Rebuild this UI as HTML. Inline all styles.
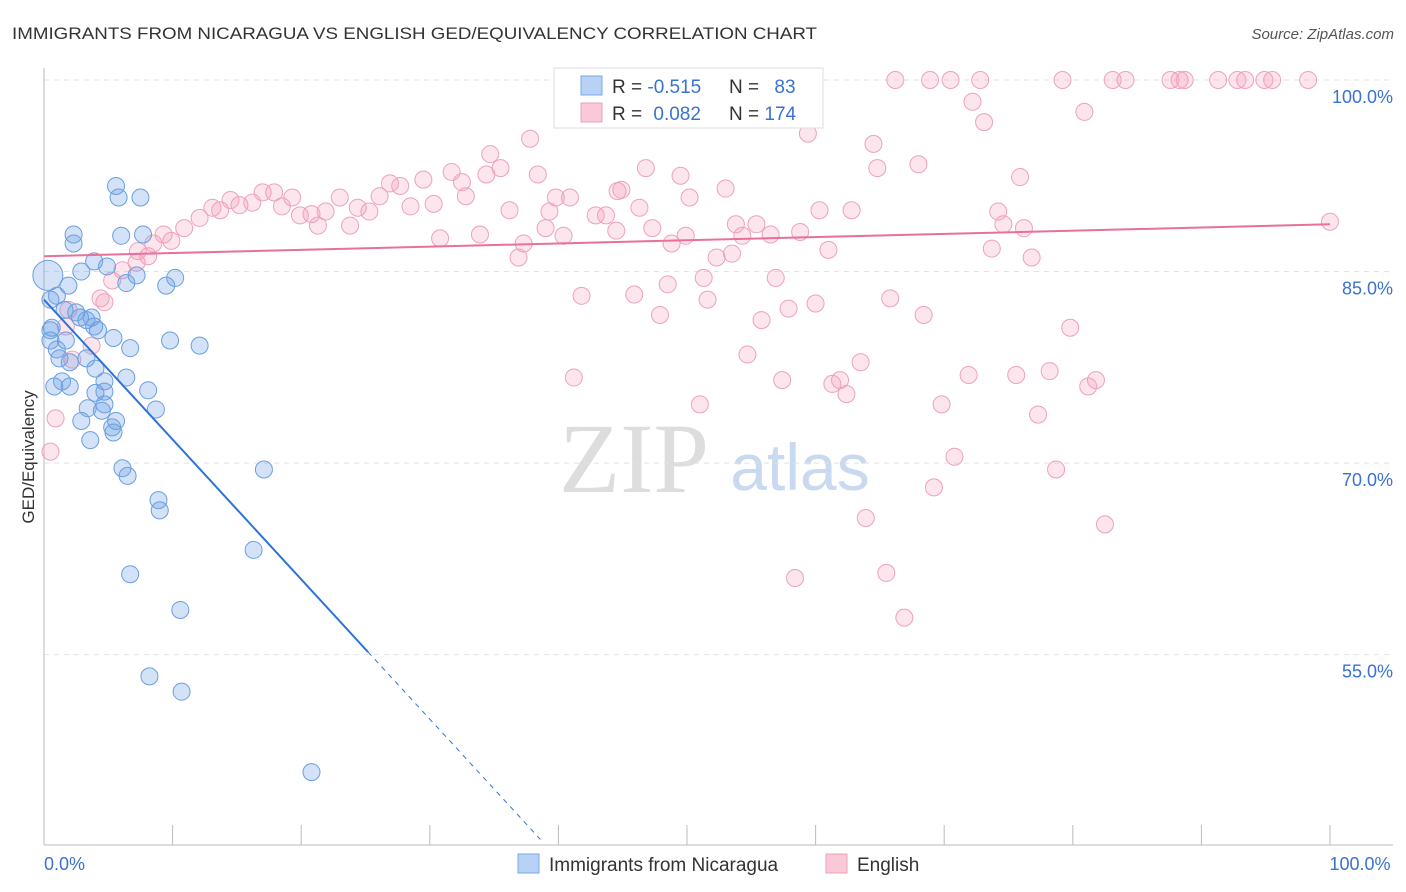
<!DOCTYPE html>
<html><head><meta charset="utf-8"><style>
body{margin:0;background:#fff;font-family:"Liberation Sans",sans-serif;}
#wrap{position:relative;width:1406px;height:892px;overflow:hidden;}
</style></head><body>
<div id="wrap">
<svg id="svg" width="1406" height="892" xmlns="http://www.w3.org/2000/svg">
<text x="12" y="39" font-size="17" fill="#333" textLength="805" lengthAdjust="spacingAndGlyphs">IMMIGRANTS FROM NICARAGUA VS ENGLISH GED/EQUIVALENCY CORRELATION CHART</text>
<text x="1394" y="39" font-size="15" fill="#555" font-style="italic" text-anchor="end">Source: ZipAtlas.com</text>
<text x="634" y="492" font-size="100" fill="#ddd" font-family="Liberation Serif,serif" text-anchor="middle">ZIP</text>
<text x="800" y="490" font-size="66" fill="#c9d9ef" text-anchor="middle">atlas</text>
<text x="34" y="457" font-size="17" fill="#333" text-anchor="middle" transform="rotate(-90 34 457)">GED/Equivalency</text>
<g id="grid"></g><g id="pts"></g><g id="trend"></g>
<g>
<rect x="554" y="68" width="269" height="60" fill="#fff" stroke="#ddd"/>
<rect x="581" y="76" width="21" height="19" fill="#b8d2f5" stroke="#7aa8e8"/>
<rect x="581" y="103" width="21" height="19" fill="#fac8d6" stroke="#eea0b8"/>
<text x="612" y="93" font-size="19" fill="#333">R = <tspan fill="#3a72d0">-0.515</tspan></text>
<text x="729" y="93" font-size="19" fill="#333">N = <tspan fill="#3a72d0" dx="10">83</tspan></text>
<text x="612" y="120" font-size="19" fill="#333">R = <tspan fill="#3a72d0" dx="6">0.082</tspan></text>
<text x="729" y="120" font-size="19" fill="#333">N = <tspan fill="#3a72d0">174</tspan></text>
</g>
<g>
<rect x="518" y="854" width="21" height="19" fill="#b8d2f5" stroke="#7aa8e8"/>
<text x="549" y="871" font-size="19" fill="#333">Immigrants from Nicaragua</text>
<rect x="826" y="854" width="21" height="19" fill="#fac8d6" stroke="#eea0b8"/>
<text x="857" y="871" font-size="19" fill="#333">English</text>
</g>
</svg></div>
<script>
const blueX=[0.3,5.6,5.8,7.5,2.3,2.3,6.0,7.7,4.9,3.9,2.9,7.2,10.2,9.5,6.4,1.9,1.0,0.5,1.6,2.5,3.3,3.9,4.2,0.5,0.5,1.0,1.7,5.4,9.8,12.1,6.7,1.2,3.3,2.0,4.0,6.4,4.7,1.4,2.0,0.8,8.1,4.0,4.7,4.7,3.4,8.7,4.5,2.9,5.6,5.3,5.4,3.6,6.1,6.5,17.1,8.9,9.0,16.3,6.7,10.6,8.2,10.7,20.8,0.6,3.7,2.8];
const blueY=[84.7,91.7,90.8,90.8,87.9,87.2,87.8,87.9,85.4,85.8,85.0,84.7,84.5,83.9,84.1,83.9,83.1,82.8,82.0,81.8,81.2,80.7,80.4,80.4,79.6,78.9,79.6,79.8,79.6,79.2,79.0,78.2,78.2,77.9,77.4,76.7,76.4,76.4,76.0,76.0,75.7,75.5,75.6,74.6,74.3,74.2,74.1,73.3,73.3,72.8,72.4,71.8,69.6,69.0,69.5,67.1,66.3,63.2,61.3,58.5,53.3,52.1,45.8,80.6,81.4,81.4];
const pinkX=[66.2,68.9,70.5,72.8,79.2,83.1,84.1,87.6,88.3,88.7,91.3,92.8,93.4,94.9,95.5,98.3,72.2,80.9,73.1,59.4,37.8,64.5,34.7,68.0,64.8,46.8,35.5,31.7,38.4,49.5,34.4,75.9,29.5,32.5,27.7,44.9,53.0,44.6,17.0,17.9,26.9,32.8,19.3,23.0,40.9,39.8,50.2,26.1,14.5,16.2,15.2,13.7,13.1,12.1,18.5,19.9,20.8,21.9,24.4,25.3,28.5,30.3,36.2,39.3,46.3,60.3,62.8,74.2,42.9,43.7,10.9,23.8,21.3,39.0,47.3,53.8,55.4,58.8,74.6,76.2,44.5,9.3,33.9,30.8,56.5,49.9,54.3,40.4,8.5,9.9,7.3,37.3,48.8,73.7,61.0,8.1,36.9,53.5,52.3,76.8,7.2,6.1,5.3,51.3,56.9,48.5,41.8,45.9,51.6,65.8,60.0,57.9,4.7,4.4,47.9,68.4,55.8,79.8,1.7,54.7,63.5,2.2,41.2,57.4,61.9,61.3,71.9,75.6,78.2,81.8,81.2,62.4,51.0,69.8,77.3,0.9,0.5,70.8,78.7,69.2,63.9,82.5,65.5,58.4,66.9,100,1.9,3.7];
const pinkY=[100,100,100,100,100,100,100,100,100,100,100,100,100,100,100,100,98.3,97.5,96.7,95.8,95.4,95.0,94.2,93.4,93.1,93.1,93.1,92.8,92.6,92.5,92.6,92.4,92.2,92.0,91.7,91.4,91.5,91.3,91.2,91.2,91.9,90.9,90.8,90.8,90.8,90.8,90.8,90.9,90.6,90.4,90.2,89.8,90.0,89.2,90.1,89.4,89.5,89.7,90.0,89.7,90.1,90.3,89.8,89.7,90.0,89.8,89.8,89.7,89.4,89.4,88.4,88.6,88.6,88.4,88.4,88.7,88.7,88.1,88.7,88.4,88.2,87.9,87.9,87.6,87.9,87.8,87.8,87.8,87.2,87.4,86.6,87.2,87.2,86.8,86.7,86.2,86.1,86.4,86.1,86.1,85.7,85.1,84.3,84.5,84.5,84.0,83.1,83.2,82.8,82.9,82.5,82.1,82.6,82.9,81.6,81.6,81.2,80.6,80.7,78.5,77.9,78.1,76.7,76.5,76.5,76.2,76.9,76.9,77.2,76.5,76.0,75.4,74.6,74.6,73.8,73.5,70.9,70.5,69.5,68.1,65.7,65.2,61.4,61.0,57.9,88.9,82.0,79.2];
const yTicks=[100,85,70,55];
const xTickLabels=["0.0%","100.0%"];
const blueTrend=[82.8,-1.095,25.2,38.6]; // intercept, slope, solid end, dashed end
const pinkTrend=[86.2,88.7];
const sx=v=>44+v*12.86, sy=v=>80+(100-v)*12.77;
const NS="http://www.w3.org/2000/svg";
function mk(t,a,p){const e=document.createElementNS(NS,t);for(const k in a)e.setAttribute(k,a[k]);p.appendChild(e);return e;}
const grid=document.getElementById('grid');
yTicks.forEach(t=>{
 const l=mk('line',{x1:44,x2:1393,y1:sy(t),y2:sy(t),stroke:'#e2e2e2','stroke-dasharray':'5,5'},grid);
 
 
 const tx=mk('text',{x:1393,y:sy(t)+23,'font-size':18,fill:'#3a72d0','text-anchor':'end'},grid);
 tx.textContent=t.toFixed(1)+'%';
 
 
});
let ax=mk('line',{x1:44,x2:44,y1:68,y2:845,stroke:'#bbb'},grid);


ax=mk('line',{x1:44,x2:1393,y1:845,y2:845,stroke:'#bbb'},grid);


for(let i=1;i<=10;i++){const tk=mk('line',{x1:sx(i*10),x2:sx(i*10),y1:825,y2:845,stroke:'#bbb'},grid);
 
 }
[[0,'start'],[100,'middle']].forEach((d,i)=>{const tx=mk('text',{x:i?1360:44,y:870,'font-size':18,fill:'#3a72d0','text-anchor':d[1]},grid);
 tx.textContent=xTickLabels[i];
 
 });
const pts=document.getElementById('pts');
pinkX.forEach((x,i)=>{const c=mk('circle',{cx:sx(x),cy:sy(pinkY[i]),r:8.5,fill:'rgba(244,160,188,0.28)',stroke:'#eda2bb','stroke-width':1},pts);
 
 });
blueX.forEach((x,i)=>{const c=mk('circle',{cx:sx(x),cy:sy(blueY[i]),r:i==0?15:8.5,fill:'rgba(110,160,230,0.3)',stroke:'#6a9fe0','stroke-width':1},pts);
 
 });
const tr=document.getElementById('trend');
const bf=x=>blueTrend[0]+blueTrend[1]*x;
let l=mk('line',{x1:sx(0),y1:sy(bf(0)),x2:sx(blueTrend[2]),y2:sy(bf(blueTrend[2])),stroke:'#2f74d8','stroke-width':2},tr);


l=mk('line',{x1:sx(blueTrend[2]),y1:sy(bf(blueTrend[2])),x2:sx(blueTrend[3]),y2:sy(bf(blueTrend[3])),stroke:'#2f74d8','stroke-width':1,'stroke-dasharray':'5,5'},tr);


l=mk('line',{x1:sx(0),y1:sy(pinkTrend[0]),x2:sx(100),y2:sy(pinkTrend[1]),stroke:'#e8709a','stroke-width':2},tr);


</script>
</body></html>
